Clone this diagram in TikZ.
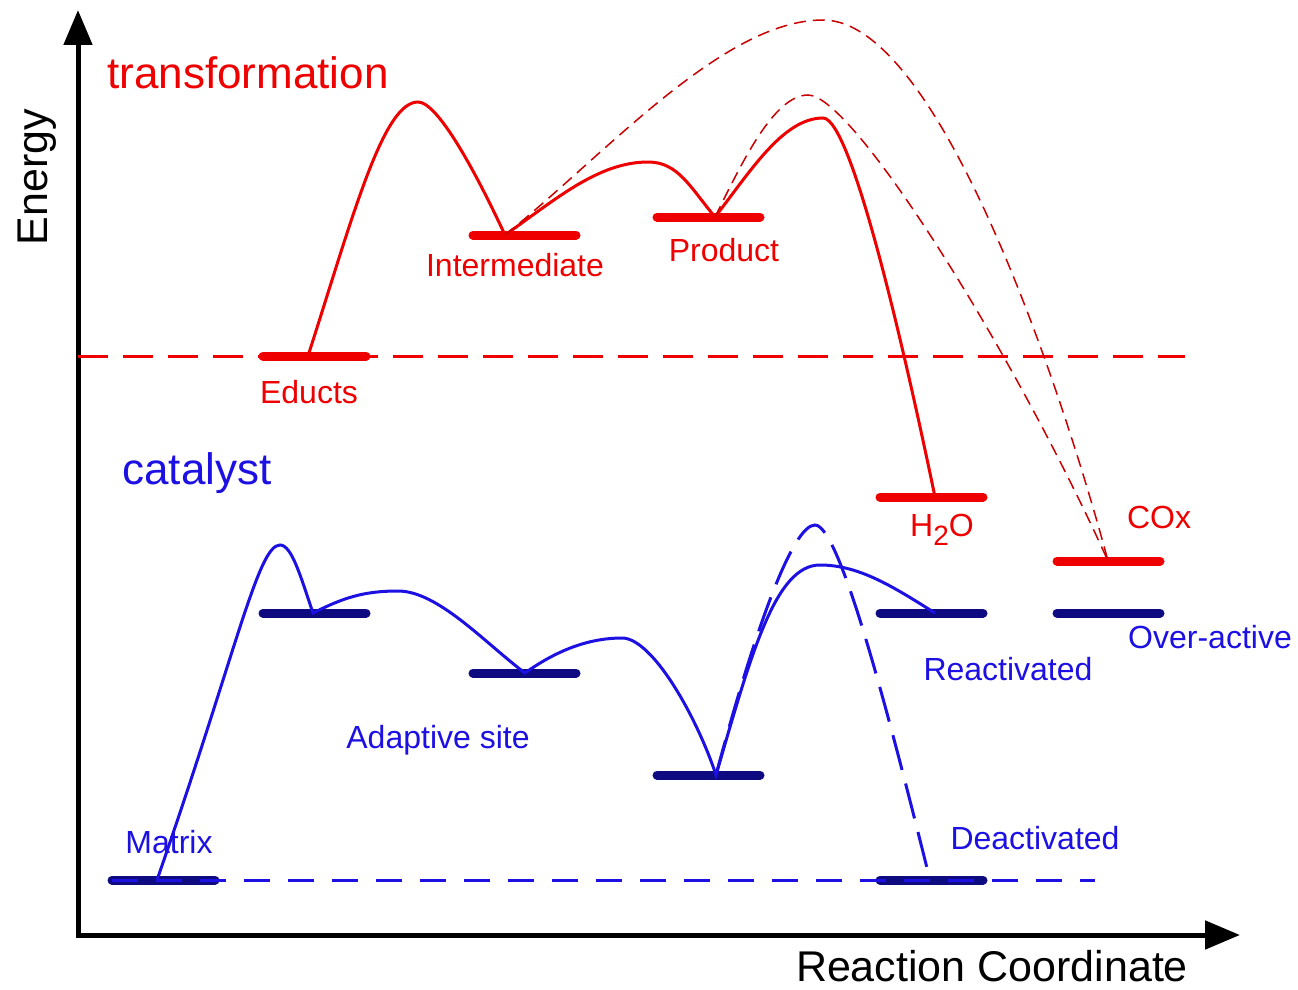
\documentclass[tikz,border=0pt]{standalone}
\usepackage{fontspec}
\setmainfont{Liberation Sans}
\usetikzlibrary{arrows.meta}
\definecolor{cred}{RGB}{238,0,0}
\definecolor{cblue}{RGB}{28,16,226}
\definecolor{cnavy}{RGB}{14,10,128}
\begin{document}
\begin{tikzpicture}[x=1pt,y=-1pt,
  axis/.style={line width=5pt,-{Triangle[length=35pt,width=28pt]}},
  biglab/.style={font=\fontsize{43}{48}\selectfont,inner sep=0pt},
  title/.style={font=\fontsize{44}{50}\selectfont,inner sep=0pt},
  lab/.style={font=\fontsize{32}{36}\selectfont,inner sep=0pt},
  redbar/.style={cred,line width=9pt,line cap=round},
  navybar/.style={cnavy,line width=9pt,line cap=round},
  redcurve/.style={cred,line width=3pt},
  redthin/.style={cred!85!black,line width=1.5pt,dash pattern=on 12pt off 7pt},
  reddash/.style={cred,line width=3pt,dash pattern=on 30pt off 15pt},
  bluecurve/.style={cblue,line width=3pt},
  bluedash/.style={cblue,line width=3pt,dash pattern=on 26pt off 18pt},
  bluelong/.style={cblue,line width=3pt,dash pattern=on 36pt off 14pt}]
\useasboundingbox (0,0) rectangle (1298,990);

% axes
\coordinate (origin) at (78,935);
\coordinate (ytip) at (78,10);
\coordinate (xtip) at (1240,935);
\draw[axis] (origin) -- (ytip);
\draw[axis] ([xshift=-2.5pt]origin) -- (xtip);
\node[biglab,rotate=90] (energy) at (37,177) {Energy};
\node[biglab] (rc) at (992,966) {Reaction Coordinate};

% titles
\node[title,cred] (transf) at (248,73) {transformation};
\node[title,cblue] (cat) at (197,473) {catalyst};

% level centres
\coordinate (educts) at (314.5,356);
\coordinate (inter) at (524.5,235);
\coordinate (prod) at (708.5,217);
\coordinate (water) at (931.5,497);
\coordinate (cox) at (1108.5,561);
\coordinate (n1) at (314.5,613);
\coordinate (n2) at (524.5,673);
\coordinate (n3) at (708.5,775);
\coordinate (react) at (931.5,613);
\coordinate (over) at (1108.5,613);
\coordinate (matrix) at (163.5,880);
\coordinate (deact) at (931.5,880);

% bars
\foreach \c in {educts,inter,prod,water,cox}
  \draw[redbar] (\c) ++(-51.5,0) -- ++(103,0);
\foreach \c in {n1,n2,n3,react,over,matrix,deact}
  \draw[navybar] (\c) ++(-51.5,0) -- ++(103,0);

% dashed reference lines
\coordinate (rl) at (78,356);
\coordinate (rr) at (1185,356);
\draw[reddash] (rl) -- (rr);
\coordinate (bl) at (112,880);
\coordinate (br) at (1095,880);
\draw[bluedash] (bl) -- (br);

% attach points and peaks
\coordinate (ea) at (308,356);
\coordinate (ia) at (505,235);
\coordinate (pa) at (715,217);
\coordinate (wa) at (935,497);
\coordinate (ca) at (1108,561);
\coordinate (p1) at (418,102);
\coordinate (h1) at (648,162);
\coordinate (p2) at (823,118);
\coordinate (pk) at (823,20);
\coordinate (pk2) at (808,95);

% red solid path
\draw[redcurve] (ea) .. controls +(45,-140) and +(-35,0) .. (p1)
  .. controls +(18,0) and +(-35,-75) .. (ia)
  .. controls +(50,-35) and +(-50,0) .. (h1)
  .. controls +(30,0) and +(-25,-30) .. (pa)
  .. controls +(35,-45) and +(-40,0) .. (p2)
  .. controls +(30,0) and +(-25,-120) .. (wa);

% red dashed alternatives
\draw[redthin] (ia) .. controls +(100,-80) and +(-100,0) .. (pk)
  .. controls +(120,0) and +(-40,-150) .. (ca);
\draw[redthin] (pa) .. controls +(25,-50) and +(-35,0) .. (pk2)
  .. controls +(45,0) and +(-95,-210) .. (ca);

% blue
\coordinate (ma) at (157,880);
\coordinate (b1) at (280,545);
\coordinate (l1) at (313,613);
\coordinate (bh1) at (398,591);
\coordinate (l2) at (525,673);
\coordinate (bh2) at (622,638);
\coordinate (l3) at (716,775);
\coordinate (bp) at (820,565);
\coordinate (ra) at (935,613);
\coordinate (dp) at (815,525);
\coordinate (da) at (930,880);

\draw[bluecurve] (ma) .. controls +(80,-230) and +(-22,0) .. (b1)
  .. controls +(12,0) and +(-12,-35) .. (l1)
  .. controls +(30,-15) and +(-35,0) .. (bh1)
  .. controls +(40,0) and +(-40,-30) .. (l2)
  .. controls +(35,-25) and +(-30,0) .. (bh2)
  .. controls +(30,0) and +(-20,-60) .. (l3)
  .. controls +(35,-120) and +(-45,0) .. (bp)
  .. controls +(40,0) and +(-40,-25) .. (ra);
\draw[bluelong] (l3) .. controls +(40,-150) and +(-22,0) .. (dp)
  .. controls +(25,0) and +(-40,-160) .. (da);

% labels
\node[lab,cred] (educts-t) at (309,392) {Educts};
\node[lab,cred] (inter-t) at (515,265) {Intermediate};
\node[lab,cred] (prod-t) at (724,250) {Product};
\node[lab,cred] (water-t) at (942,530) {H\raisebox{-9pt}{\fontsize{28}{30}\selectfont 2}O};
\node[lab,cred] (cox-t) at (1159,517) {COx};
\node[lab,cblue] (matrix-t) at (169,842) {Matrix};
\node[lab,cblue] (adapt-t) at (438,740) {Adaptive site};
\node[lab,cblue] (react-t) at (1008,669) {Reactivated};
\node[lab,cblue] (deact-t) at (1035,838) {Deactivated};
\node[lab,cblue] (over-t) at (1210,637) {Over-active};
\end{tikzpicture}
\end{document}
